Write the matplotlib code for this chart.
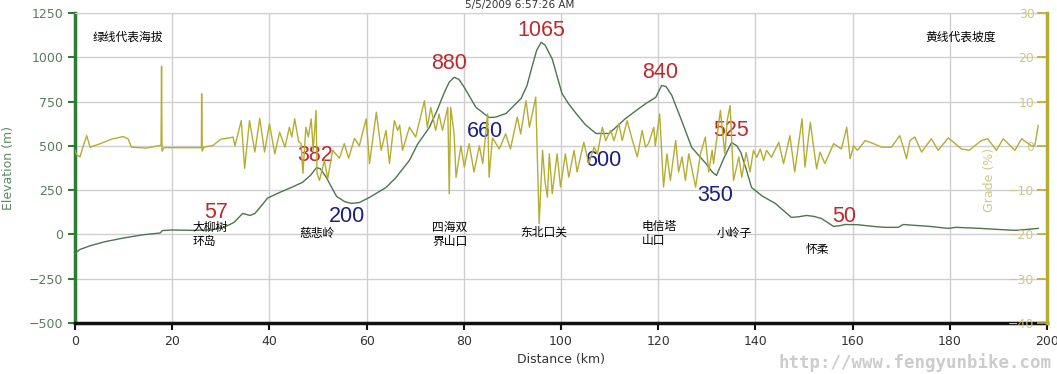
import matplotlib.pyplot as plt
from matplotlib.ticker import MultipleLocator

# elevation profile (km, m)
dist_km = [0.0, 0.3, 1.0, 3, 6, 10, 14, 17.5, 18, 20, 24.3, 28, 30.5, 31.8, 32.8, 34.5, 36, 37,
           38.6, 39.6, 42.1, 44.5, 46.8, 48.5, 49.7, 50.5, 51.7, 53.8, 55.5, 56.9, 58.5, 60.6, 64,
           66, 68.8, 70.5, 72.9, 74.5, 76, 77, 78, 79, 80.1, 82.5, 85.2, 86.5, 88.7, 91.8, 93, 94,
           95, 95.9, 96.7, 98.2, 100.2, 101.5, 103.1, 105, 107.2, 109.9, 111.5, 113.3, 115.5,
           117.5, 119.5, 120.7, 121.6, 122.8, 124.8, 126.9, 129.8, 131.2, 132, 133.5, 135.1,
           136.2, 137, 138.2, 139.2, 141.5, 144.1, 147.4, 149, 150.5, 152, 153.6, 156.1, 157.5,
           158.5, 161, 164.3, 166.7, 169.4, 170.4, 172.9, 176, 179.7, 181.3, 186.4, 190, 193.4,
           195, 198.2]
elev_m = [-115, -100, -85, -65, -42, -20, -2, 8, 22, 25, 23, 25, 40, 55, 70, 119, 107, 118,
          170, 205, 237, 265, 294, 335, 378, 370, 322, 215, 185, 175, 180, 209, 265,
          320, 418, 510, 604, 700, 802, 860, 887, 875, 830, 717, 660, 662, 683, 768, 840, 943,
          1040, 1084, 1070, 990, 796, 740, 683, 620, 570, 570, 610, 655, 700,
          740, 774, 841, 835, 785, 644, 491, 401, 350, 333, 430, 519,
          500, 463, 360, 265, 215, 175, 96, 100, 107, 102, 90, 45, 50,
          56, 55, 45, 40, 40, 56, 51, 45, 34, 40, 34, 28, 23,
          26, 34]

# grade profile (km, %)
grade_km = [0, 0.3, 1.0, 1.7, 2.4, 3.1, 5.2, 7.5, 9.9, 10.9, 11.6, 14.7, 17.5, 17.7, 17.8, 17.9,
            18.3, 19.5, 26.0, 26.05, 26.15, 26.5, 28.4, 30, 31.8, 32.5, 32.9, 34.2, 34.9, 35.9,
            37, 38, 39, 40, 41.1, 42.1, 43.2, 44.1, 44.6, 45.2, 46.0, 46.5, 46.9, 47.5, 48, 48.6,
            49.0, 49.6, 49.8, 50.3, 51.3, 52, 53, 54.4, 55.4, 56.3, 57.5, 58.5, 59.9, 60.6, 62,
            63, 64, 64.7, 65.7, 66.4, 66.8, 67.4, 68.8, 70.1, 71.9, 72.5, 73.2, 74.2, 74.9, 75.6,
            76.7, 77, 77.3, 78, 78.4, 79.4, 80.1, 81.1, 82.1, 83.2, 83.9, 84.9, 85.2, 85.9, 87.3,
            88.6, 89.6, 91, 91.7, 92.8, 93.5, 94.8, 95.5, 96.2, 96.7, 97.2, 97.6, 98.2, 99.2,
            99.9, 100.9, 101.6, 102.7, 103.3, 104.7, 105.7, 106.8, 107.5, 108.5, 109.2, 110.2,
            110.9, 111.9, 112.6, 113.6, 114.7, 115.7, 116.7, 117.4, 118, 119.1, 119.4, 120.3,
            121.1, 121.8, 122.5, 123.6, 124.2, 124.9, 125.6, 126.3, 127.7, 128.7, 129.7, 130.4,
            131.1, 131.4, 132.8, 133.7, 134.2, 134.8, 135.5, 136.6, 137.2, 138.1, 138.9, 139.6,
            140.3, 141, 141.7, 142.3, 143.3, 144.8, 145.8, 147.1, 148.1, 149.6, 150.2, 151.3,
            152.6, 153.3, 154.3, 156.1, 157.7, 158.8, 159.5, 160.2, 161, 162.6, 164.3, 166, 168,
            169.7, 170.5, 171.1, 171.8, 172.8, 174.2, 176.2, 177.6, 179.7, 182.4, 184, 186.5,
            187.8, 189.6, 191, 193.4, 194.8, 196.8, 197.5, 198.2]
grade_pct = [-1, -2, -2.5, 0, 2.3, -0.3, 0.5, 1.5, 2.1, 1.6, -0.3, -0.5, 0.1, 0.2, 18, -1.2,
             -0.4, -0.4, -0.4, 11.8, -1.2, -0.3, 0.1, 1.5, 1.8, 2, 0, 5.7, -5.1, 5.7,
             -1.4, 6.2, -1.4, 5, -1.8, 3.1, -0.3, 4.2, 2, 6.1, 1.0, 0.5, -6.2, 4.2, 2, 6.1,
             -1, 8, -6.2, -7.8, -3.3, -7.4, -1, -2.8, 0.5, -2.8, 1.7, 0, 6.1, -4, 7.6,
             -1, 3.5, -4, 5.7, 3.5, 4.7, -1, 4.2, 2, 10.2, 4.2, 8.7, 3.5, 7.2, 3.5,
             8.7, -10.8, 8.7, 2.8, -7.1, 0, -4.8, 0.5, -5.9, 0, -4, 7.2, -7.1, 1.8, -0.7,
             2.7, -0.7, 6.5, 2.7, 10.2, 4.2, 11, -17.6, -1, -8, -11.6, -1.8, -10.8, -1.8,
             -9.3, -1.8, -7.1, -1, -5.9, 0.8, -4, -0.3, -1.8, 4.2, 1.2, 3.5,
             1.2, 5, 1.2, 5.7, 1.2, -2.5, 3.5, -0.3, 0.5, 4.2, 0, 7.2,
             -9.3, -1.8, -7.8, 1.2, -5.9, -2.5, -7.8, -1.8, -9.3, -1.8, 2, -5.9,
             -1, -4, 8, -1.8, 5.7, 9.1, -7.8, -2.5, -7.1, -1.5, -5.9, -1,
             -2.6, -0.7, -3.3, -1, -2.6, 0.8, -4, 2.3, -5.9, 6.1, -4.8, 5.3,
             -5.2, -1.4, -4, 0.5, -0.7, 4.2, -2.9, 0, -1, 1.2, 0.5, -0.3, -0.3,
             2.3, -0.5, -2.9, 1.2, 2, -1.4, 1.6, -1, 1.8, -0.7, -1, 1.2,
             1.6, -1, 1.6, -1, 1.6, 0, 0, 4.6]

# peak / valley labels
peak_labels = ["57", "382", "880", "1065", "840", "525", "50"]
peak_x = [29, 49.5, 77, 96, 120.5, 135, 158.3]
peak_y = [124, 446, 966, 1152, 915, 587, 100]
valley_labels = ["200", "660", "600", "350"]
valley_x = [56, 84.4, 108.8, 131.8]
valley_y = [100, 582, 418, 220]

place_names = ["大柳树\n环岛", "慈悲岭", "四海双\n界山口", "东北口关", "电信塔\n山口", "小岭子", "怀柔"]
place_x = [24.2, 46.2, 73.5, 96.4, 116.6, 135.7, 152.8]
place_y = [0, 6, 0, 11, 6, 6, -85]
place_ha = ["left", "left", "left", "center", "left", "center", "center"]

green = "#2f7a35"
olive = "#b5ad32"

fig = plt.figure(figsize=(10.57, 3.74), dpi=100)
ax = fig.add_axes([0.071, 0.1364, 0.9195, 0.8288])
ax2 = ax.twinx()

ax.plot(dist_km, elev_m, color="#4c7550", lw=1.0, zorder=4)
ax2.plot(grade_km, grade_pct, color=olive, lw=1.0, zorder=3)

ax.set_xlim(0, 200)
ax.set_ylim(-500, 1250)
ax2.set_ylim(-40, 30)
ax.xaxis.set_major_locator(MultipleLocator(20))
ax.yaxis.set_major_locator(MultipleLocator(250))
ax2.yaxis.set_major_locator(MultipleLocator(10))
ax.grid(True, color="#cfcfcf", lw=1)
ax.set_axisbelow(True)

ax.spines["left"].set_color(green)
ax.spines["left"].set_linewidth(2.5)
ax.spines["bottom"].set_color("#111111")
ax.spines["bottom"].set_linewidth(2.5)
ax.spines["top"].set_color("#cfcfcf")
ax.spines["right"].set_visible(False)
for s in ["left", "bottom", "top"]:
    ax2.spines[s].set_visible(False)
ax2.spines["right"].set_color(olive)
ax2.spines["right"].set_linewidth(2.5)

ax.tick_params(axis="y", colors=green, labelcolor="#5d7a60", labelsize=9, length=5, width=1.5)
ax.tick_params(axis="x", colors="#111111", labelcolor="#333333", labelsize=9, length=5, width=1.5)
ax2.tick_params(axis="y", direction="in", colors=olive, labelcolor="#cfc886", labelsize=9,
                length=7, width=1.2, pad=-9)
fig.canvas.draw()
for tl in ax2.get_yticklabels():
    tl.set_horizontalalignment("right")

ax.set_xlabel("Distance (km)", fontsize=9, color="#333333", labelpad=4)
ax.set_ylabel("Elevation (m)", fontsize=9, color="#5d8a60")
ax.yaxis.set_label_coords(-0.062, 0.5)
fig.text(990 / 1057, 1 - 180 / 374, "Grade (%)", rotation=90, fontsize=9, color="#cfc886",
         ha="center", va="center")

for t, x, y in zip(peak_labels, peak_x, peak_y):
    ax.text(x, y, t, color="#c0282d", fontsize=15.5, family="Liberation Sans",
            ha="center", va="center", zorder=6)
for t, x, y in zip(valley_labels, valley_x, valley_y):
    ax.text(x, y, t, color="#1c1f80", fontsize=15.5, family="Liberation Sans",
            ha="center", va="center", zorder=6)

cjk = ["Noto Sans CJK SC", "DejaVu Sans"]
for t, x, y, h in zip(place_names, place_x, place_y, place_ha):
    ax.text(x, y, t, fontsize=8.5, family=cjk, ha=h, va="center", linespacing=1.05, zorder=7)
ax.text(3.7, 1112, "绿线代表海拔", fontsize=8.5, family=cjk, ha="left", va="center")
ax.text(175, 1112, "黄线代表坡度", fontsize=8.5, family=cjk, ha="left", va="center")

fig.text(0.492, 1.0, "5/5/2009 6:57:26 AM", fontsize=7.5, color="#333333",
         ha="center", va="top")
fig.text(0.995, 0.005, "http://www.fengyunbike.com", fontsize=12.5, family="DejaVu Sans Mono",
         weight="bold", color="#cccccc", ha="right", va="bottom")

fig.savefig("out.png", dpi=100)
